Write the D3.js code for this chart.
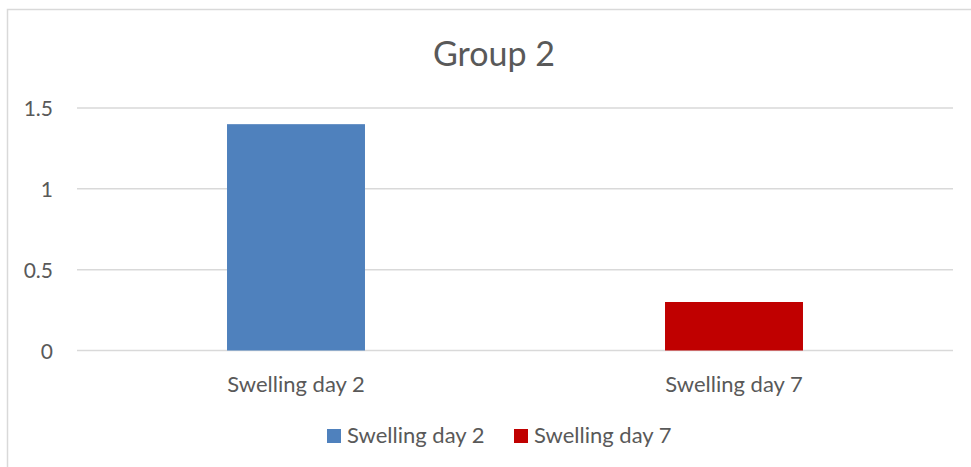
<!DOCTYPE html>
<html><head><meta charset="utf-8">
<script src="https://cdn.jsdelivr.net/npm/d3@7"></script>
<style>body{margin:0;background:#fff;}</style>
</head><body><svg id="c" width="971" height="467"></svg>
<script>
const categories = ["Swelling day 2", "Swelling day 7"];
const seriesNames = ["Swelling day 2", "Swelling day 7"];
const values = [1.4, 0.3];
const colors = ["#4F81BD", "#C00000"];
const yTicks = [0, 0.5, 1, 1.5];
const title = "Group 2";

const FONT = "Lato, 'Open Sans', sans-serif";
const svg = d3.select("#c");
const textColor = "#595959";
svg.append("rect").attr("x", 7.5).attr("y", 9.5).attr("width", 980).attr("height", 480)
  .attr("fill", "#fff").attr("stroke", "#d9d9d9").attr("stroke-width", 1.5);

const m = {l: 77, r: 953, t: 108, b: 350.5};
const x = d3.scaleBand().domain(categories).range([m.l, m.r]).paddingInner(0.685).paddingOuter(0.3425);
const y = d3.scaleLinear().domain([0, 1.5]).range([m.b, m.t]);

const grid = svg.append("g");
grid.selectAll("line").data(yTicks).join("line")
  .attr("x1", m.l).attr("x2", m.r).attr("y1", d => y(d)).attr("y2", d => y(d))
  .attr("stroke", "#d9d9d9").attr("stroke-width", 1.5);

const yAxis = svg.append("g").attr("transform", `translate(53,0)`)
  .call(d3.axisLeft(y).tickValues(yTicks).tickSize(0).tickPadding(0).tickFormat(d3.format("")));
yAxis.select(".domain").remove();
yAxis.selectAll("text").attr("fill", textColor).attr("dy", "0.37em")
  .style("font-size", "21px").style("font-family", FONT);

svg.append("g").selectAll("rect").data(values).join("rect")
  .attr("x", (d, i) => x(categories[i])).attr("width", x.bandwidth())
  .attr("y", d => y(d)).attr("height", d => y(0) - y(d))
  .attr("fill", (d, i) => colors[i]);

const xAxis = svg.append("g").attr("transform", `translate(0,${m.b})`)
  .call(d3.axisBottom(x).tickSize(0));
xAxis.select(".domain").remove();
xAxis.selectAll("text").attr("fill", textColor).attr("y", 41.5).attr("dy", 0)
  .style("font-size", "22px").style("font-family", FONT);

svg.append("text").attr("x", 494).attr("y", 66).attr("text-anchor", "middle")
  .attr("fill", textColor).style("font-size", "34px").style("font-family", FONT).text(title);

const legX = [327, 514];
const leg = svg.append("g").selectAll("g").data(seriesNames).join("g")
  .attr("transform", (d, i) => `translate(${legX[i]},429)`);
leg.append("rect").attr("width", 14).attr("height", 14).attr("fill", (d, i) => colors[i]);
leg.append("text").attr("x", 20).attr("y", 14).attr("fill", textColor)
  .style("font-size", "22px").style("font-family", FONT).text(d => d);
</script></body></html>
